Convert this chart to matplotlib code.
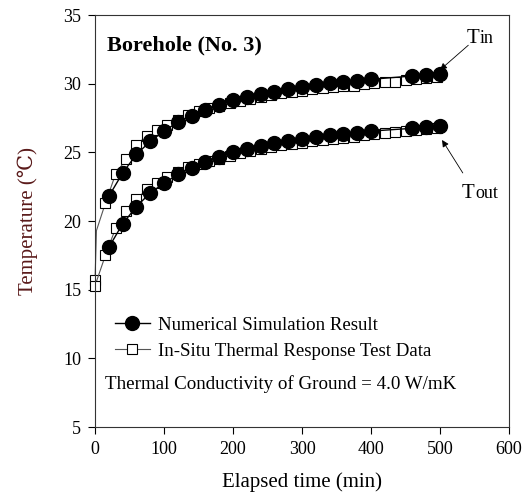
import matplotlib
matplotlib.use("Agg")
import matplotlib.pyplot as plt

# simulation result (min, degC)
t_sim = [20, 40, 60, 80, 100, 120, 140, 160, 180, 200, 220, 240, 260, 280, 300,
         320, 340, 360, 380, 400, 460, 480, 500]
tin_sim = [21.8, 23.5, 24.85, 25.8, 26.55, 27.2, 27.67, 28.1, 28.45, 28.79, 29.03,
           29.25, 29.42, 29.6, 29.77, 29.93, 30.05, 30.13, 30.22, 30.32, 30.56, 30.6, 30.67]
tout_sim = [18.08, 19.8, 21.05, 22.05, 22.75, 23.4, 23.88, 24.32, 24.68, 25.0, 25.27,
            25.45, 25.66, 25.85, 26.0, 26.13, 26.23, 26.33, 26.44, 26.55, 26.75, 26.83, 26.92]

# in-situ thermal response test data
t_test_in = [0, 2, 15, 30, 45, 60, 75, 90, 105, 120, 135, 150, 165, 180, 195, 210, 225,
             240, 255, 270, 285, 300, 315, 330, 345, 360, 375, 390, 405, 420, 435, 450,
             465, 480, 495]
tin_test = [15.7, 19.3, 21.3, 23.45, 24.5, 25.55, 26.2, 26.65, 27.0, 27.35, 27.7, 28.0,
            28.2, 28.4, 28.6, 28.75, 28.9, 29.05, 29.2, 29.3, 29.4, 29.5, 29.6, 29.68,
            29.78, 29.8, 29.85, 29.97, 30.02, 30.12, 30.14, 30.25, 30.32, 30.39, 30.46]
t_test_out = [0, 15, 30, 45, 60, 75, 90, 105, 120, 135, 150, 165, 180, 195, 210, 225,
              240, 255, 270, 285, 300, 315, 330, 345, 360, 375, 390, 405, 420, 435, 450,
              465, 480, 495]
tout_test = [15.3, 17.5, 19.5, 20.75, 21.6, 22.3, 22.8, 23.2, 23.55, 23.9, 24.15, 24.35,
             24.55, 24.75, 24.95, 25.1, 25.25, 25.4, 25.5, 25.6, 25.7, 25.8, 25.9, 25.97,
             26.08, 26.14, 26.26, 26.33, 26.43, 26.45, 26.57, 26.62, 26.67, 26.74]

plt.rcParams['font.family'] = ['Liberation Serif', 'DejaVu Serif']

fig = plt.figure(figsize=(5.31, 4.94), dpi=100)
ax = fig.add_axes([0.179, 0.1356, 0.7796, 0.834])

sq = dict(marker='s', markersize=7, markerfacecolor='white', markeredgecolor='black',
          markeredgewidth=0.8, color='#555555', linewidth=0.8)
ci = dict(marker='o', markersize=10, color='black', linewidth=1.0)

ax.plot(t_test_in, tin_test, markevery=[0] + list(range(2, len(t_test_in))),
        clip_on=False, **sq)
ax.plot(t_test_out, tout_test, clip_on=False, **sq)
ax.plot(t_sim, tin_sim, **ci)
ax.plot(t_sim, tout_sim, **ci)

ax.set_xlim(0, 600)
ax.set_ylim(5, 35)
ax.set_xticks(range(0, 601, 100))
ax.set_yticks(range(5, 36, 5))
ax.tick_params(direction='out', length=5, width=0.8, labelsize=13, pad=5)
for s in ax.spines.values():
    s.set_linewidth(0.8)
    s.set_color('#333333')

ax.set_xlabel('Elapsed time (min)', fontsize=15, labelpad=10)
ax.set_ylabel('Temperature (\u2103)', fontsize=15, color='#5a1a1a', labelpad=18)

ax.text(0.029, 0.927, 'Borehole (No. 3)', transform=ax.transAxes,
        fontsize=16, fontweight='bold', va='center')

# legend built from proxies
h1, = ax.plot([], [], **ci)
h2, = ax.plot([], [], **sq)
ax.legend([h1, h2], ['Numerical Simulation Result', 'In-Situ Thermal Response Test Data'],
          loc='upper left', bbox_to_anchor=(0.047, 0.268), frameon=False,
          fontsize=13.6, handlelength=1.9, handletextpad=0.4, labelspacing=0.45,
          borderaxespad=0, borderpad=0)
ax.text(0.024, 0.104, 'Thermal Conductivity of Ground = 4.0 W/mK',
        transform=ax.transAxes, fontsize=13.7, va='center')

# T_in / T_out labels with arrows
ax.annotate('', xy=(500, 31.0), xytext=(541, 32.8),
            arrowprops=dict(arrowstyle='-|>', color='black', lw=0.6,
                            mutation_scale=10, shrinkA=0, shrinkB=0),
            annotation_clip=False)
ax.annotate('', xy=(503, 25.9), xytext=(533, 23.5),
            arrowprops=dict(arrowstyle='-|>', color='black', lw=0.6,
                            mutation_scale=10, shrinkA=0, shrinkB=0),
            annotation_clip=False)
ax.text(539, 32.95, 'T', fontsize=15)
ax.text(558, 32.95, 'in', fontsize=13)
ax.text(532, 21.67, 'T', fontsize=15)
ax.text(551, 21.67, 'out', fontsize=13)

fig.savefig('out.png', dpi=100)
